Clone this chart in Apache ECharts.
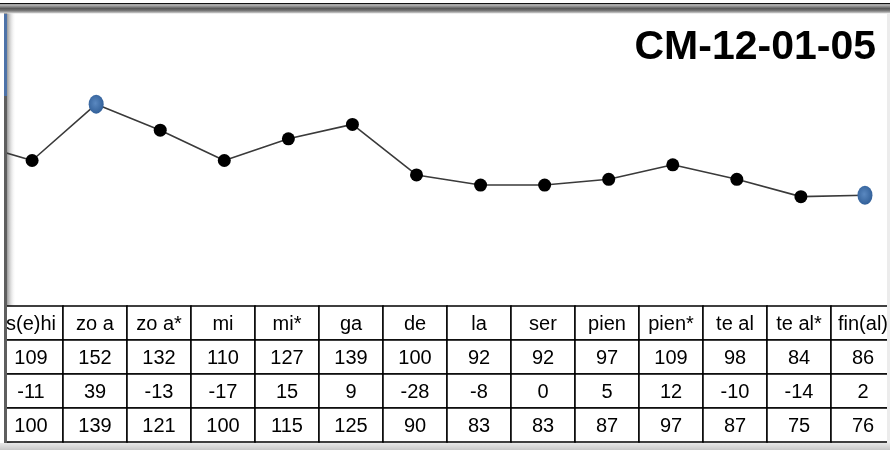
<!DOCTYPE html>
<html><head><meta charset="utf-8">
<script src="https://cdn.jsdelivr.net/npm/echarts@6/dist/echarts.min.js"></script>
<style>html,body{margin:0;padding:0;background:#fff}#c{width:890px;height:450px}</style>
</head><body><div id="c"></div>
<script>
const title = 'CM-12-01-05';
const categories = ['s(e)hi','zo a','zo a*','mi','mi*','ga','de','la','ser','pien','pien*','te al','te al*','fin(al)'];
const rowA = [109,152,132,110,127,139,100,92,92,97,109,98,84,86];
const rowB = [-11,39,-13,-17,15,9,-28,-8,0,5,12,-10,-14,2];
const rowC = [100,139,121,100,115,125,90,83,83,87,97,87,75,76];
const prevValue = 113; // point before the first column (cut off at the left edge)
const highlighted = ['zo a','fin(al)'];

const lineCats = [''].concat(categories);
const lineData = [prevValue].concat(rowC).map((v,i)=>{
  const hl = highlighted.indexOf(lineCats[i]) >= 0;
  return hl ? {value:v, symbolSize:[15,19], itemStyle:{color:{type:'radial',x:0.45,y:0.45,r:0.6,colorStops:[{offset:0,color:'#5a88c0'},{offset:1,color:'#2f5d96'}]}}} : v;
});

const tableRows = [categories, rowA, rowB, rowC];
const cellData = [], cellText = [];
tableRows.forEach((row,r)=>row.forEach((v,c)=>{cellData.push([c,r]);cellText.push(String(v));}));

const chart = echarts.init(document.getElementById('c'));
chart.setOption({
  animation:false,
  backgroundColor:'#fff',
  title:{text:title,right:9,top:22,textStyle:{fontFamily:'Liberation Sans',fontWeight:'bold',fontSize:41,color:'#000'}},
  grid:[
    {left:-64,right:-7,top:16,bottom:145,outerBoundsMode:'none',containLabel:false},
    {left:-1,right:-5,top:306,bottom:8,outerBoundsMode:'none',containLabel:false}
  ],
  xAxis:[
    {type:'category',gridIndex:0,data:lineCats,boundaryGap:true,show:false},
    {type:'category',gridIndex:1,data:categories,boundaryGap:true,show:false}
  ],
  yAxis:[
    {type:'value',gridIndex:0,min:0,max:200,show:false},
    {type:'category',gridIndex:1,data:['r0','r1','r2','r3'],inverse:true,show:false}
  ],
  series:[
    {type:'line',xAxisIndex:0,yAxisIndex:0,data:lineData,symbol:'circle',symbolSize:13,
     itemStyle:{color:'#000'},lineStyle:{color:'#3a3a3a',width:1.6},z:3},
    {type:'custom',xAxisIndex:1,yAxisIndex:1,data:cellData,z:2,
     renderItem:function(params,api){
       const c=api.value(0), r=api.value(1);
       const p=api.coord([c,r]); const s=api.size([1,1]);
       return {type:'group',children:[
         {type:'rect',shape:{x:p[0]-s[0]/2,y:p[1]-s[1]/2,width:s[0],height:s[1]},style:{fill:'#fff',stroke:'#000',lineWidth:1.5}},
         {type:'text',style:{text:cellText[params.dataIndex],x:p[0],y:p[1]+1,align:'center',verticalAlign:'middle',font:'20px "Liberation Sans"',fill:'#000'}}
       ]};
     }}
  ],
  graphic:[
    {type:'rect',z:0,zlevel:0,shape:{x:7,y:13,width:9,height:437},style:{fill:{type:'linear',x:0,y:0,x2:1,y2:0,colorStops:[{offset:0,color:'#9a9a9a'},{offset:1,color:'rgba(255,255,255,0)'}]}}},
    {type:'rect',z:100,shape:{x:0,y:0,width:4,height:450},style:{fill:'#fff'}},
    {type:'rect',z:100,shape:{x:4,y:13,width:3,height:437},style:{fill:'#5e5e5e'}},
    {type:'rect',z:101,shape:{x:4,y:14,width:3,height:82},style:{fill:'#4d72a8'}},
    {type:'rect',z:100,shape:{x:0,y:0,width:890,height:3},style:{fill:'#fff'}},
    {type:'rect',z:100,shape:{x:0,y:3,width:890,height:1.5},style:{fill:'#111'}},
    {type:'rect',z:100,shape:{x:0,y:4.5,width:890,height:9},style:{fill:{type:'linear',x:0,y:0,x2:0,y2:1,colorStops:[{offset:0,color:'#c4c4c4'},{offset:0.45,color:'#5a5a5a'},{offset:0.7,color:'#7a7a7a'},{offset:1,color:'#dcdcdc'}]}}},
    {type:'rect',z:100,shape:{x:0,y:443,width:890,height:7},style:{fill:{type:'linear',x:0,y:0,x2:0,y2:1,colorStops:[{offset:0,color:'#e8e8e8'},{offset:1,color:'#c8c8c8'}]}}},
    {type:'rect',z:100,shape:{x:887,y:13,width:3,height:430},style:{fill:'#ececec'}}
  ]
});
</script></body></html>
